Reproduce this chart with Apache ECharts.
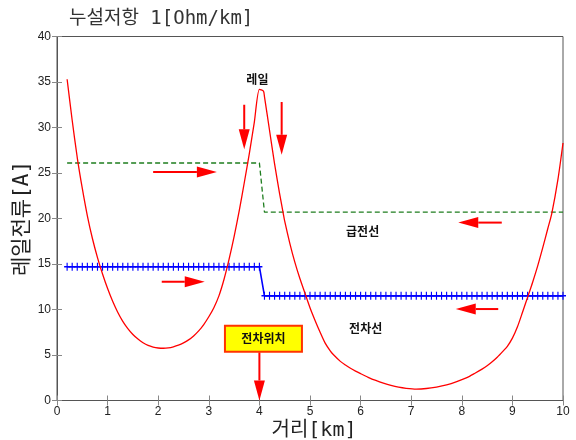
<!DOCTYPE html>
<html>
<head>
<meta charset="utf-8">
<script src="https://cdn.jsdelivr.net/npm/echarts@6/dist/echarts.min.js"></script>
<style>
html,body{margin:0;padding:0;background:#fff;}
#c{width:576px;height:440px;}
</style>
</head>
<body>
<div id="c"></div>
<script>
// ---- data ----
const titleText = '누설저항 1[Ohm/km]';
const xName = '거리[km]';
const yName = '레일전류[A]';

// rail current (red): distance km / current A
const railDist = [
  0.2,0.3,0.4,0.5,0.6,0.7,0.8,0.9,1.0,1.1,1.2,1.3,1.4,1.5,1.6,1.7,1.8,1.9,2.0,
  2.1,2.2,2.3,2.4,2.5,2.6,2.7,2.8,2.9,3.0,3.1,3.2,3.3,3.4,3.5,3.6,3.7,3.8,3.9,4.0,
  4.08,4.1,4.2,4.3,4.4,4.47,4.5,4.6,4.7,4.8,4.9,5.0,5.1,5.2,5.3,5.4,5.46,5.6,5.7,5.8,5.9,
  6.0,6.15,6.3,6.45,6.6,6.75,6.9,7.1,7.3,7.5,7.7,7.9,8.1,8.26,8.4,8.5,8.6,8.7,8.82,8.9,
  9.0,9.1,9.2,9.31,9.4,9.5,9.6,9.7,9.78,9.9,10.0
];
const railValues = [
  35.3,30.8,26.7,23.3,20.3,17.8,15.7,13.9,12.3,10.9,9.7,8.7,7.9,7.25,6.75,6.35,6.05,5.87,5.77,
  5.74,5.78,5.9,6.08,6.33,6.66,7.1,7.65,8.35,9.2,10.2,11.5,13.3,15.5,18.0,20.8,23.9,27.1,30.6,34.2,
  34.0,33.4,29.7,26.0,22.7,20.6,19.7,17.3,15.2,13.4,11.8,10.2,8.8,7.5,6.3,5.45,5.05,4.3,3.9,3.54,3.23,
  2.95,2.55,2.2,1.9,1.65,1.46,1.34,1.26,1.32,1.48,1.72,2.08,2.52,3.0,3.45,3.82,4.25,4.75,5.45,5.95,
  6.85,8.1,9.7,11.5,13.0,14.8,16.8,18.9,20.6,24.3,28.3
];

// feeder current (green dashed)
const feederDist = [0.2,4.0,4.1,10.0];
const feederValues = [26.1,26.1,20.7,20.7];

// catenary current (blue, + markers)
const catenaryDist = [
  0.2,0.3,0.4,0.5,0.6,0.7,0.8,0.9,1.0,1.1,1.2,1.3,1.4,1.5,1.6,1.7,1.8,1.9,2.0,
  2.1,2.2,2.3,2.4,2.5,2.6,2.7,2.8,2.9,3.0,3.1,3.2,3.3,3.4,3.5,3.6,3.7,3.8,3.9,4.0,
  4.1,4.2,4.3,4.4,4.5,4.6,4.7,4.8,4.9,5.0,5.1,5.2,5.3,5.4,5.5,5.6,5.7,5.8,5.9,6.0,
  6.1,6.2,6.3,6.4,6.5,6.6,6.7,6.8,6.9,7.0,7.1,7.2,7.3,7.4,7.5,7.6,7.7,7.8,7.9,8.0,
  8.1,8.2,8.3,8.4,8.5,8.6,8.7,8.8,8.9,9.0,9.1,9.2,9.3,9.4,9.5,9.6,9.7,9.8,9.9,10.0
];
const catenaryValues = [
  14.7,14.7,14.7,14.7,14.7,14.7,14.7,14.7,14.7,14.7,14.7,14.7,14.7,14.7,14.7,14.7,14.7,14.7,14.7,
  14.7,14.7,14.7,14.7,14.7,14.7,14.7,14.7,14.7,14.7,14.7,14.7,14.7,14.7,14.7,14.7,14.7,14.7,14.7,14.7,
  11.5,11.5,11.5,11.5,11.5,11.5,11.5,11.5,11.5,11.5,11.5,11.5,11.5,11.5,11.5,11.5,11.5,11.5,11.5,11.5,
  11.5,11.5,11.5,11.5,11.5,11.5,11.5,11.5,11.5,11.5,11.5,11.5,11.5,11.5,11.5,11.5,11.5,11.5,11.5,11.5,
  11.5,11.5,11.5,11.5,11.5,11.5,11.5,11.5,11.5,11.5,11.5,11.5,11.5,11.5,11.5,11.5,11.5,11.5,11.5,11.5
];

// axis ranges / ticks
const xMin = 0, xMax = 10, xStep = 1;
const yMin = 0, yMax = 40, yStep = 5;

// annotation arrows [x1,y1,x2,y2] (tail -> tip), data units
const arrows = [
  [1.90,25.1,3.16,25.1],
  [2.07,13.05,2.92,13.05],
  [8.79,19.55,7.93,19.55],
  [8.72,10.05,7.88,10.05],
  [3.70,32.5,3.70,27.6],
  [4.44,32.8,4.44,27.0],
  [4.0,5.3,4.0,0.0]
];
// annotation labels [text, x, y, boxed]
const labels = [
  ['레일',3.96,35.3,0],
  ['급전선',6.04,18.6,0],
  ['전차선',6.10,7.95,0],
  ['전차위치',4.08,6.78,1]
];

// ---- chart ----
const chart = echarts.init(document.getElementById('c'), null, {renderer:'canvas'});
const tickFont = {fontFamily:'Liberation Sans, Arial, sans-serif', fontSize:12, color:'#222'};
const nameFont = '"DejaVu Sans Mono", "Noto Sans CJK KR", monospace';
const lineCol = '#555';

const zip = (a,b)=>a.map((d,i)=>[d,b[i]]);
const plusPath = 'path://M5,0L5,10M0,5L10,5';

chart.setOption({
  animation:false,
  backgroundColor:'#fff',
  title:{
    text:titleText, left:64, top:5,
    textStyle:{fontFamily:nameFont, fontSize:19, fontWeight:'normal', color:'#333'}
  },
  grid:{left:57, right:13, top:36.5, bottom:39.5, show:true, borderColor:lineCol, borderWidth:1,
        containLabel:false, outerBoundsMode:'none'},
  xAxis:[{
    type:'value', min:xMin, max:xMax, interval:xStep, position:'bottom',
    name:xName, nameLocation:'middle', nameGap:20, nameMoveOverlap:false,
    nameTextStyle:{fontFamily:nameFont, fontSize:20, color:'#222', padding:[0,0,0,8]},
    axisLine:{show:true, lineStyle:{color:lineCol}},
    axisTick:{show:true, inside:true, length:5, lineStyle:{color:'#888'}},
    axisLabel:Object.assign({margin:5}, tickFont),
    splitLine:{show:false}
  },{
    type:'value', min:xMin, max:xMax, interval:xStep, position:'top',
    axisLine:{show:true, lineStyle:{color:lineCol}},
    axisTick:{show:true, inside:true, length:5, lineStyle:{color:'#888'}},
    axisLabel:{show:false}, splitLine:{show:false}
  }],
  yAxis:[{
    type:'value', min:yMin, max:yMax, interval:yStep, position:'left',
    name:yName, nameLocation:'middle', nameGap:24, nameRotate:90, nameMoveOverlap:false,
    nameTextStyle:{fontFamily:nameFont, fontSize:21, color:'#222'},
    axisLine:{show:true, lineStyle:{color:lineCol}},
    axisTick:{show:true, inside:true, length:5, lineStyle:{color:'#888'}},
    axisLabel:Object.assign({margin:6}, tickFont),
    splitLine:{show:false}
  },{
    type:'value', min:yMin, max:yMax, interval:yStep, position:'right',
    axisLine:{show:true, lineStyle:{color:lineCol}},
    axisTick:{show:true, inside:true, length:5, lineStyle:{color:'#888'}},
    axisLabel:{show:false}, splitLine:{show:false}
  }],
  series:[
    {
      name:'급전선', type:'line', data:zip(feederDist,feederValues), showSymbol:false, symbol:'none',
      lineStyle:{color:'#1e7d1e', width:1.3, type:[5,3]}, z:2
    },
    {
      name:'전차선', type:'line', data:zip(catenaryDist,catenaryValues), symbol:plusPath, symbolSize:[6,8],
      showSymbol:true, showAllSymbol:true,
      itemStyle:{color:'#0000ff', borderColor:'#0000ff', borderWidth:1.3},
      lineStyle:{color:'#0000ff', width:1.6}, z:3
    },
    {
      name:'레일', type:'line', data:zip(railDist,railValues), showSymbol:false, symbol:'none',
      smooth:0.25, lineStyle:{color:'#ff0000', width:1.3}, z:4
    },
    {
      type:'custom', data:arrows, encode:{x:[0,2], y:[1,3]}, z:5, clip:false,
      renderItem:function(params, api){
        const p1 = api.coord([api.value(0), api.value(1)]);
        const p2 = api.coord([api.value(2), api.value(3)]);
        const dx = p2[0]-p1[0], dy = p2[1]-p1[1];
        const len = Math.sqrt(dx*dx+dy*dy);
        const ux = dx/len, uy = dy/len;
        const hl = 20, hw = 5.5;
        const bx = p2[0]-ux*hl, by = p2[1]-uy*hl;
        return {
          type:'group',
          children:[
            {type:'line', shape:{x1:p1[0], y1:p1[1], x2:bx, y2:by}, style:{stroke:'#ff0000', lineWidth:2}},
            {type:'polygon', shape:{points:[[p2[0],p2[1]],[bx-uy*hw, by+ux*hw],[bx+uy*hw, by-ux*hw]]}, style:{fill:'#ff0000'}}
          ]
        };
      }
    },
    {
      type:'custom', data:labels.map(l=>[l[1],l[2],l[3]]), encode:{x:0, y:1}, z:6, clip:false,
      renderItem:function(params, api){
        const p = api.coord([api.value(0), api.value(1)]);
        const boxed = api.value(2);
        const txt = labels[params.dataIndex][0];
        const children = [];
        if (boxed) {
          children.push({type:'rect', shape:{x:p[0]-38.5, y:p[1]-13, width:77, height:26},
            style:{fill:'#ffff00', stroke:'#ff3300', lineWidth:2}});
        }
        children.push({type:'text', x:p[0], y:p[1], style:{text:txt, fill:'#111',
          font:'bold 12px "Noto Sans CJK KR"', align:'center', verticalAlign:'middle'}});
        return {type:'group', children:children};
      }
    }
  ]
});
</script>
</body>
</html>
